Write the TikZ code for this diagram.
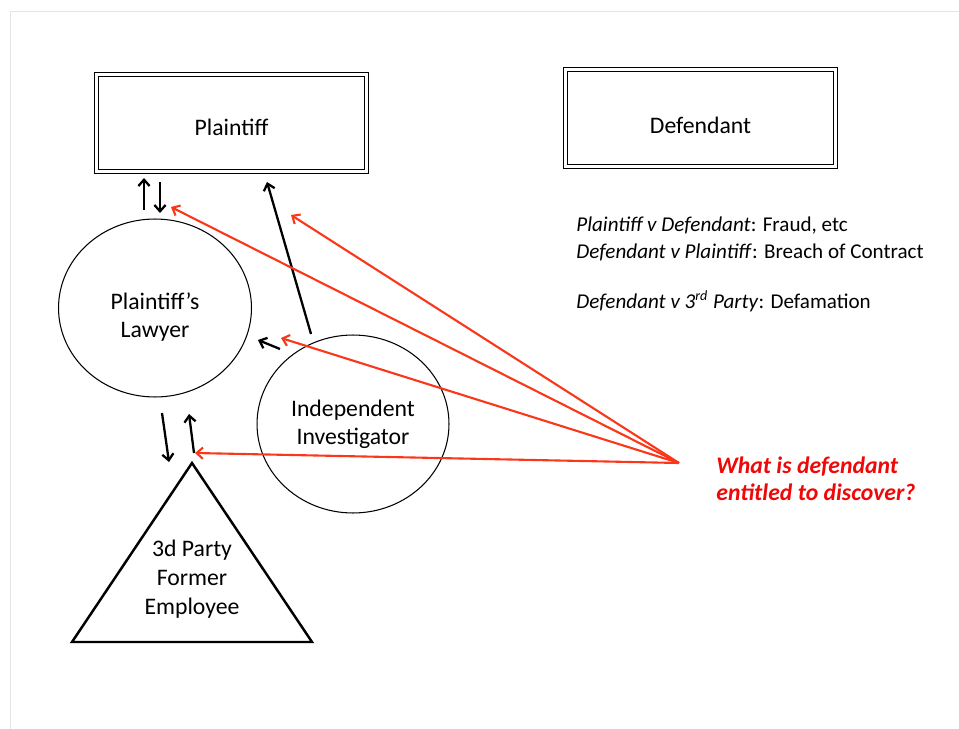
\documentclass[tikz,border=0pt]{standalone}
\usepackage{fontspec}
\setmainfont{Carlito}
\usetikzlibrary{shapes.geometric,arrows.meta}
\definecolor{arrred}{RGB}{250,55,25}
\definecolor{qred}{RGB}{238,8,8}
\definecolor{framegray}{RGB}{228,228,228}
\tikzset{
  party/.style={draw, double, double distance=1.3pt, line width=0.8pt, minimum width=5.4cm, minimum height=1.94cm, text depth=0pt, font=\fontsize{13.5}{16}\selectfont},
  circ/.style={draw, ellipse, line width=0.6pt, inner sep=0pt, align=center, font=\fontsize{13.5}{16}\selectfont},
  blk/.style={->, line width=1.3pt},
  redarr/.style={->, line width=1.2pt, arrred},
  claim/.style={anchor=west, inner sep=0pt, font=\fontsize{12}{14}\selectfont}
}
\begin{document}
\begin{tikzpicture}[x=0.02cm, y=-0.02cm, >={Straight Barb[length=3.6pt,width=6.4pt]}]
        \useasboundingbox (0,0) rectangle (959,729);
        \draw[framegray] (10,729) -- (10,11) -- (959,11);
        \node[party, text height=14.5pt] (plaintiff) at (231.5,123) {Plaintiff};
        \node[party, text height=17.5pt] (defendant) at (700.5,118) {Defendant};
        \node[circ, minimum width=3.86cm, minimum height=3.56cm, text height=36pt] (lawyer) at (155,308) {Plaintiff’s\\Lawyer};
        \node[circ, minimum width=3.84cm, minimum height=3.56cm] (investigator) at (353,424) {Independent\\Investigator};
        \draw[line width=1.4pt, line join=miter] (192,463) -- (312,642) -- (72,642) -- cycle;
        \node[align=center, font=\fontsize{13.5}{16.4}\selectfont] (employee) at (192,579) {3d Party\\Former\\Employee};
        \node[claim] (c1) at (576,226) {\textit{Plaintiff v Defendant}: Fraud, etc};
        \node[claim] (c2) at (576,252) {\textit{Defendant v Plaintiff}: Breach of Contract};
        \node[claim] (c3) at (576,301) {\textit{Defendant v 3\textsuperscript{rd} Party}: Defamation};
        \node[anchor=west, align=left, inner sep=0pt, text=qred, font=\fontsize{13.5}{15.5}\selectfont\bfseries\itshape] (question) at (716,479) {What is defendant\\entitled to discover?};
        \coordinate (src) at (679,463);
        \coordinate (a1) at (144,210); \coordinate (b1) at (144,178);
        \coordinate (a2) at (160,182); \coordinate (b2) at (160,213);
        \coordinate (a3) at (311,334); \coordinate (b3) at (267,182);
        \coordinate (a4) at (280,349); \coordinate (b4) at (258,340);
        \coordinate (a5) at (162,413); \coordinate (b5) at (169,462);
        \coordinate (a6) at (194,453); \coordinate (b6) at (189,414);
        \foreach \i in {1,...,6}
          \draw[blk] (a\i) -- (b\i);
        \coordinate (r1) at (171,207);
        \coordinate (r2) at (291,215);
        \coordinate (r3) at (281,338);
        \coordinate (r4) at (195,453);
        \foreach \i in {1,...,4}
          \draw[redarr] (src) -- (r\i);
      \end{tikzpicture}
\end{document}
